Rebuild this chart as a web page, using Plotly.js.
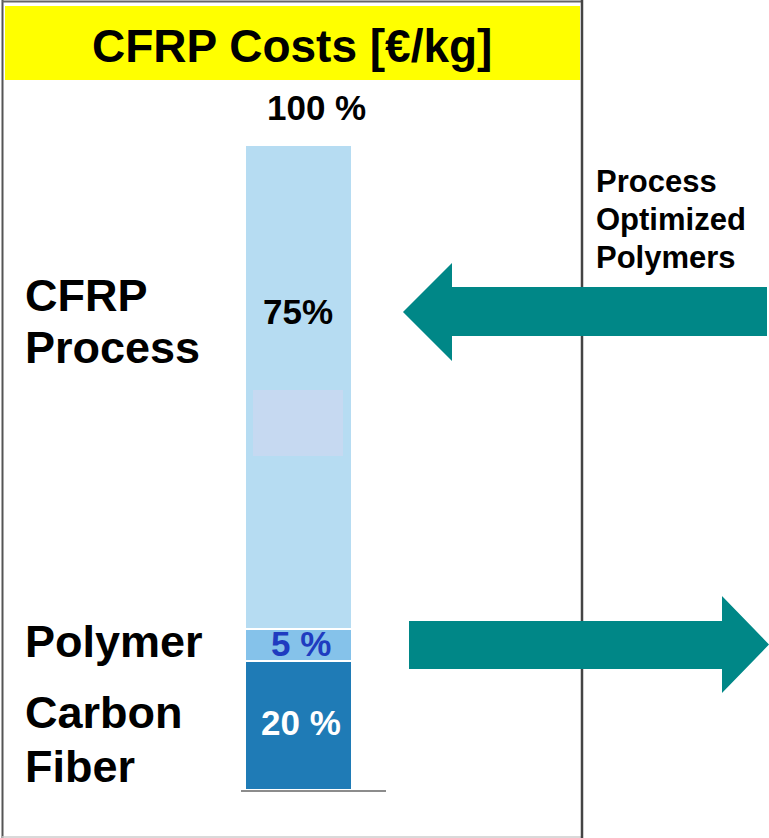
<!DOCTYPE html>
<html>
<head>
<meta charset="utf-8">
<script src="https://cdn.plot.ly/plotly-3.0.1.min.js"></script>
<style>html,body{margin:0;padding:0;background:#fff;}#chart{width:769px;height:838px;}</style>
</head>
<body>
<div id="chart"></div>
<script>
// ---- data ----
const category = ['CFRP'];
const segmentNames = ['Carbon Fiber', 'Polymer', 'CFRP Process'];
const segmentValues = [20, 5, 75];
const segmentLabels = ['20 %', '5 %', '75%'];
const totalLabel = '100 %';
const segmentColors = ['#1F7BB6', '#85C2EA', '#B6DCF2'];
const labelColors = ['#FFFFFF', '#1F3CC0', '#000000'];
const chartTitle = 'CFRP Costs [€/kg]';
const leftLabelLines = [['CFRP', 'Process'], ['Polymer'], ['Carbon', 'Fiber']];
const rightLabelLines = ['Process', 'Optimized', 'Polymers'];

// ---- layout helpers (pixel -> paper) ----
const W = 769, H = 838;
const L = 241, R = 386, T = 145, B = 790;
const px = x => (x - L) / (R - L);
const py = y => (B - y) / (B - T);
const FONT = 'Liberation Sans, Arial, Helvetica, sans-serif';

const traces = segmentValues.map((v, i) => ({
  type: 'bar',
  x: category,
  y: [v],
  name: segmentNames[i],
  width: 1,
  marker: {color: segmentColors[i], line: {color: '#FFFFFF', width: 1.5}},
  hoverinfo: 'name+y'
}));

const annotations = [];
function ann(text, x, y, size, color, xanchor) {
  annotations.push({
    text: '<b>' + text + '</b>', xref: 'paper', yref: 'paper',
    x: px(x), y: py(y), xanchor: xanchor || 'center', yanchor: 'middle',
    showarrow: false, font: {family: FONT, size: size, color: color || '#000'}
  });
}
// title
ann(chartTitle, 292, 46, 46, '#000');
// total label
ann(totalLabel, 316, 107, 35, '#000');
// segment labels
const segY = [722, 643, 311];
segmentLabels.forEach((t, i) => ann(t, i === 2 ? 298 : 301, segY[i], 35, labelColors[i]));
// left labels
const leftY = [[295, 347], [641], [712, 766]];
leftLabelLines.forEach((lines, i) => lines.forEach((t, j) => ann(t, 23, leftY[i][j], 45, '#000', 'left')));
// right labels
const rightY = [181, 219, 257];
rightLabelLines.forEach((t, j) => ann(t, 594, rightY[j], 31, '#000', 'left'));

function path(pts) {
  return 'M' + pts.map(p => px(p[0]).toFixed(5) + ',' + py(p[1]).toFixed(5)).join(' L') + ' Z';
}

const shapes = [
  // yellow title band
  {type: 'rect', xref: 'paper', yref: 'paper', x0: px(5), x1: px(580), y0: py(6), y1: py(80),
   fillcolor: '#FFFF00', line: {width: 0}, layer: 'below'},
  // frame
  {type: 'line', xref: 'paper', yref: 'paper', x0: px(2.5), x1: px(2.5), y0: py(0), y1: py(838),
   line: {color: '#555555', width: 2}, layer: 'below'},
  {type: 'line', xref: 'paper', yref: 'paper', x0: px(2), x1: px(582), y0: py(1.5), y1: py(1.5),
   line: {color: '#666666', width: 2}, layer: 'below'},
  {type: 'line', xref: 'paper', yref: 'paper', x0: px(2), x1: px(582), y0: py(837), y1: py(837),
   line: {color: '#CCCCCC', width: 1.5}, layer: 'below'},
  {type: 'line', xref: 'paper', yref: 'paper', x0: px(582), x1: px(582), y0: py(0), y1: py(838),
   line: {color: '#444444', width: 2.5}, layer: 'below'},
  // inner faint rectangle
  {type: 'rect', xref: 'paper', yref: 'paper', x0: px(253), x1: px(343), y0: py(390), y1: py(456),
   fillcolor: '#C6D9F1', line: {width: 0}, layer: 'above'},
  // arrows
  {type: 'path', xref: 'paper', yref: 'paper', layer: 'above',
   path: path([[403, 312], [452, 263], [452, 287], [767, 287], [767, 336], [452, 336], [452, 361]]),
   fillcolor: '#008787', line: {width: 0}},
  {type: 'path', xref: 'paper', yref: 'paper', layer: 'above',
   path: path([[409, 621], [722, 621], [722, 596], [769, 644.5], [722, 693], [722, 669], [409, 669]]),
   fillcolor: '#008787', line: {width: 0}}
];

const layout = {
  width: W, height: H,
  margin: {l: L, r: W - R, t: T, b: H - B, pad: 0},
  paper_bgcolor: '#FFFFFF', plot_bgcolor: 'rgba(0,0,0,0)',
  barmode: 'stack',
  showlegend: false,
  xaxis: {type: 'category', range: [-(298.5 - L) / 107, (R - 298.5) / 107],
          showticklabels: false, ticks: '', showgrid: false, zeroline: false,
          showline: true, linecolor: '#8C8C8C', linewidth: 2, fixedrange: true},
  yaxis: {range: [0, 100], visible: false, fixedrange: true},
  shapes: shapes,
  annotations: annotations
};

Plotly.newPlot('chart', traces, layout, {displayModeBar: false, staticPlot: true});
</script>
</body>
</html>
